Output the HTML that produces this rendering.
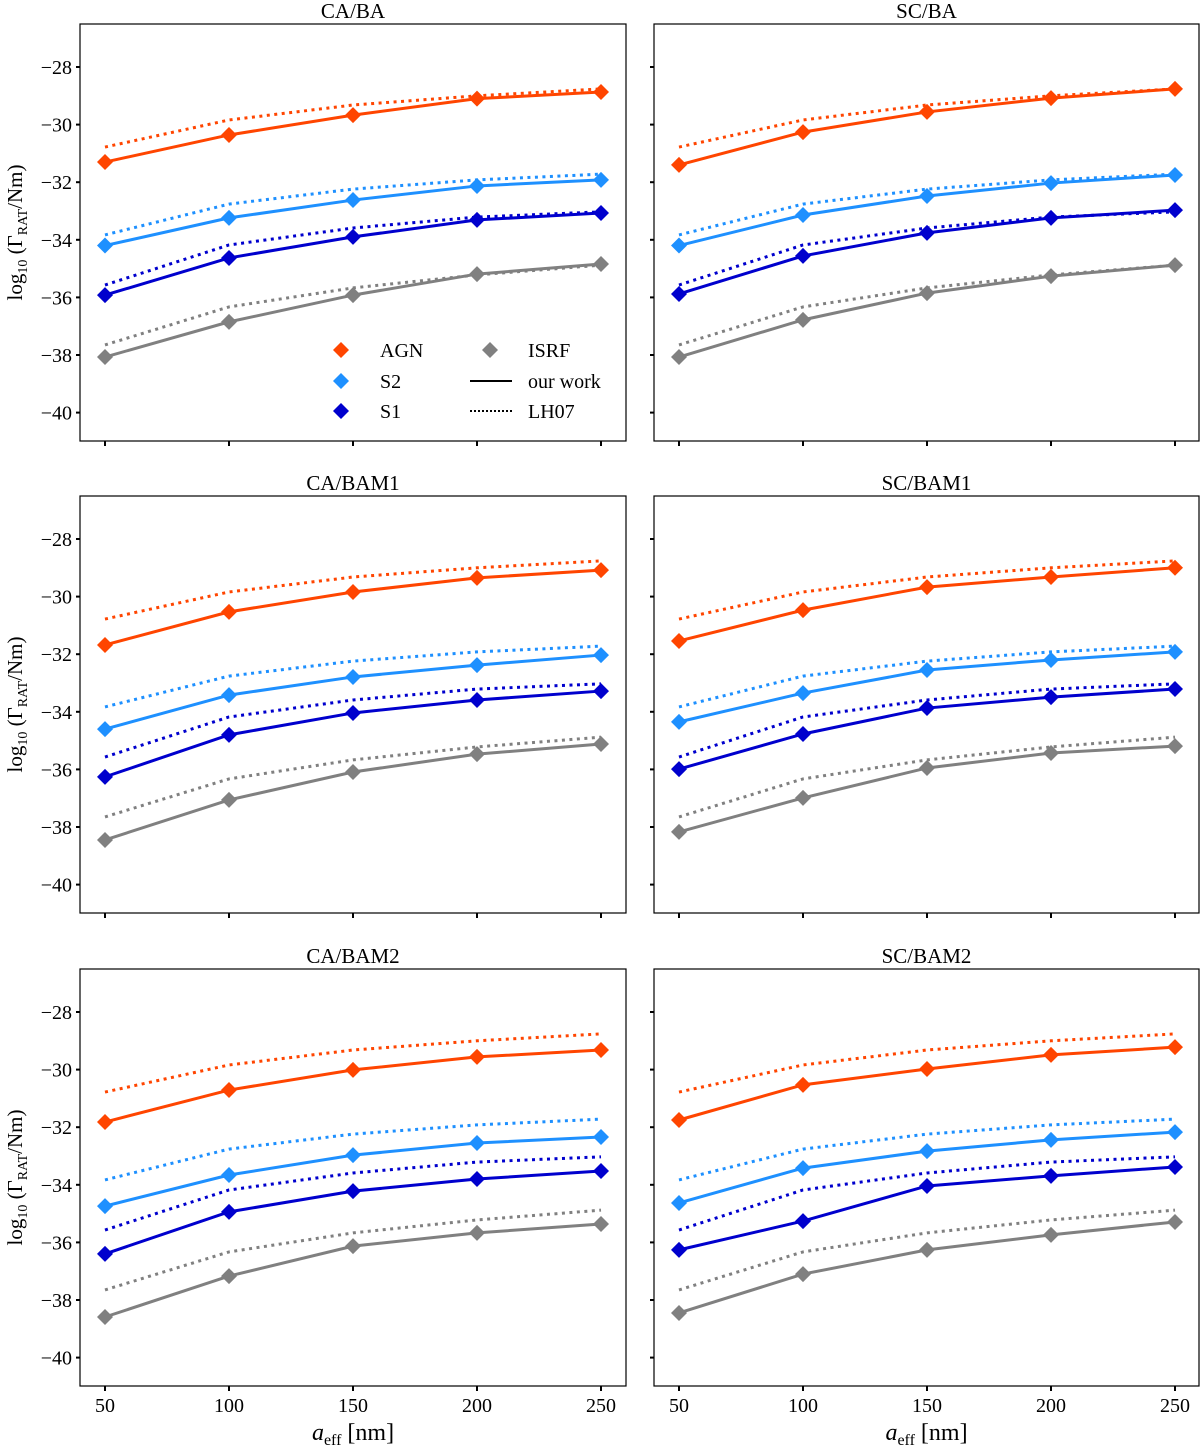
<!DOCTYPE html>
<html><head><meta charset="utf-8"><style>
body{margin:0;background:#fff}
svg text{font-family:"Liberation Serif","DejaVu Serif",serif;fill:#000}
</style></head><body>
<svg id="fig" width="1200" height="1448" xmlns="http://www.w3.org/2000/svg"></svg>
<script>
const xCats=[50,100,150,200,250];
const yTicks=[-28,-30,-32,-34,-36,-38,-40];
const xTickLabels=["50","100","150","200","250"];
const panelTitles=["CA/BA","SC/BA","CA/BAM1","SC/BAM1","CA/BAM2","SC/BAM2"];
const seriesNames=["AGN","S2","S1","ISRF"];
const seriesColors=["#ff4500","#1e90ff","#0000cd","#808080"];
const lh07AGN=[-30.78,-29.84,-29.32,-29.0,-28.76];
const lh07S2=[-33.83,-32.76,-32.24,-31.92,-31.72];
const lh07S1=[-35.57,-34.18,-33.59,-33.21,-33.03];
const lh07ISRF=[-37.65,-36.33,-35.67,-35.22,-34.88];
const caBA=[[-31.3,-30.36,-29.67,-29.1,-28.87],[-34.2,-33.24,-32.62,-32.13,-31.92],[-35.92,-34.63,-33.9,-33.31,-33.07],[-38.07,-36.85,-35.92,-35.19,-34.84]];
const scBA=[[-31.4,-30.26,-29.56,-29.08,-28.76],[-34.2,-33.14,-32.48,-32.03,-31.75],[-35.88,-34.56,-33.76,-33.24,-32.97],[-38.07,-36.78,-35.85,-35.26,-34.88]];
const caBAM1=[[-31.68,-30.53,-29.84,-29.35,-29.08],[-34.6,-33.42,-32.79,-32.38,-32.03],[-36.26,-34.8,-34.04,-33.59,-33.28],[-38.45,-37.06,-36.09,-35.47,-35.12]];
const scBAM1=[[-31.54,-30.47,-29.67,-29.32,-29.0],[-34.35,-33.35,-32.55,-32.2,-31.92],[-35.99,-34.77,-33.87,-33.49,-33.21],[-38.17,-36.99,-35.95,-35.43,-35.19]];
const caBAM2=[[-31.82,-30.71,-30.01,-29.56,-29.32],[-34.74,-33.66,-32.97,-32.55,-32.34],[-36.4,-34.94,-34.22,-33.8,-33.52],[-38.59,-37.17,-36.13,-35.67,-35.36]];
const scBAM2=[[-31.75,-30.53,-29.98,-29.49,-29.22],[-34.63,-33.42,-32.83,-32.44,-32.17],[-36.26,-35.26,-34.04,-33.69,-33.38],[-38.45,-37.1,-36.26,-35.74,-35.29]];

const NS="http://www.w3.org/2000/svg";
const svg=document.getElementById('fig');
function mk(t,a,p){const e=document.createElementNS(NS,t);for(const k in a)e.setAttribute(k,a[k]);(p||svg).appendChild(e);return e;}
const lh07=[lh07AGN,lh07S2,lh07S1,lh07ISRF];
const ours=[caBA,scBA,caBAM1,scBAM1,caBAM2,scBAM2];
const colX=[[80,626],[654,1199]];
const rowY=[[24,441],[496,913],[969,1386]];
function xScale(c,v){const x0=colX[c][0]+25;return x0+(v-50)*(124/50);}
function yScale(r,v){const y28=rowY[r][0]+43;return y28+(-28-v)*28.8;}
function diamond(x,y,col,g){const s=8;const d=mk('polygon',{points:`${x},${y-s} ${x+s},${y} ${x},${y+s} ${x-s},${y}`,fill:col},g);return d;}

for(let p=0;p<6;p++){
  const c=p%2,r=Math.floor(p/2);
  const g=mk('g',{});
  
  
  const [x0,x1]=colX[c],[y0,y1]=rowY[r];
  const t=mk('text',{x:(x0+x1)/2,y:y0-6,'text-anchor':'middle','font-size':'21'},g);t.textContent=panelTitles[p];
  
  
  // ticks
  yTicks.forEach(v=>{const y=yScale(r,v);mk('line',{x1:x0-4,x2:x0,y1:y,y2:y,stroke:'#000','stroke-width':2},g);
    if(c===0){const tl=mk('text',{x:x0-8,y:y+7,'text-anchor':'end','font-size':'20'},g);tl.textContent='\u2212'+Math.abs(v);
    
    }});
  xCats.forEach((v,i)=>{const x=xScale(c,v);mk('line',{x1:x,x2:x,y1:y1,y2:y1+5,stroke:'#000','stroke-width':2},g);
    if(r===2){const tl=mk('text',{x:x,y:y1+26,'text-anchor':'middle','font-size':'20'},g);tl.textContent=xTickLabels[i];
    
    }});
  // series
  for(let s=0;s<4;s++){
    const dp=lh07[s].map((v,i)=>xScale(c,xCats[i])+','+yScale(r,v)).join(' ');
    const dl=mk('polyline',{points:dp,fill:'none',stroke:seriesColors[s],'stroke-width':3,'stroke-dasharray':'3,4.5'},g);
    
    
    const sp=ours[p][s].map((v,i)=>xScale(c,xCats[i])+','+yScale(r,v)).join(' ');
    const sl=mk('polyline',{points:sp,fill:'none',stroke:seriesColors[s],'stroke-width':3},g);
    
    
    ours[p][s].forEach((v,i)=>{const d=diamond(xScale(c,xCats[i]),yScale(r,v),seriesColors[s],g);
      
      });
  }
  const fr=mk('rect',{x:x0,y:y0,width:x1-x0,height:y1-y0,fill:'none',stroke:'#000','stroke-width':1.2},g);
  
  
}
// y labels
for(let r=0;r<3;r++){
  const cy=(rowY[r][0]+rowY[r][1])/2;
  const t=mk('text',{x:0,y:0,transform:`translate(22,${cy}) rotate(-90)`,'text-anchor':'middle','font-size':'21'});
  t.innerHTML='log<tspan font-size="14" dy="5">10</tspan><tspan dy="-5"> (Γ</tspan><tspan font-size="14" dy="5">RAT</tspan><tspan dy="-5">/Nm)</tspan>';
  
  
}
for(let c=0;c<2;c++){
  const cx=(colX[c][0]+colX[c][1])/2;
  const t=mk('text',{x:cx,y:1440,'text-anchor':'middle','font-size':'24'});
  t.innerHTML='<tspan font-style="italic">a</tspan><tspan font-size="16" dy="5">eff</tspan><tspan dy="-5"> [nm]</tspan>';
  
  
}
// legend
const lg=mk('g',{});


const lrows=[350,381,411];
[0,1,2].forEach(i=>{const d=diamond(341,lrows[i],seriesColors[i],lg);
  
  
  const t=mk('text',{x:380,y:lrows[i]+7,'font-size':'20'},lg);t.textContent=seriesNames[i];
  
  });
const di=diamond(490,350,seriesColors[3],lg);


const ti=mk('text',{x:528,y:357,'font-size':'20'},lg);ti.textContent='ISRF';


mk('line',{x1:470,x2:512,y1:381,y2:381,stroke:'#000','stroke-width':2},lg);
const t2=mk('text',{x:528,y:388,'font-size':'20'},lg);t2.textContent='our work';


mk('line',{x1:470,x2:512,y1:411,y2:411,stroke:'#000','stroke-width':2,'stroke-dasharray':'2,2'},lg);
const t3=mk('text',{x:528,y:418,'font-size':'20'},lg);t3.textContent='LH07';


</script>
</body></html>
